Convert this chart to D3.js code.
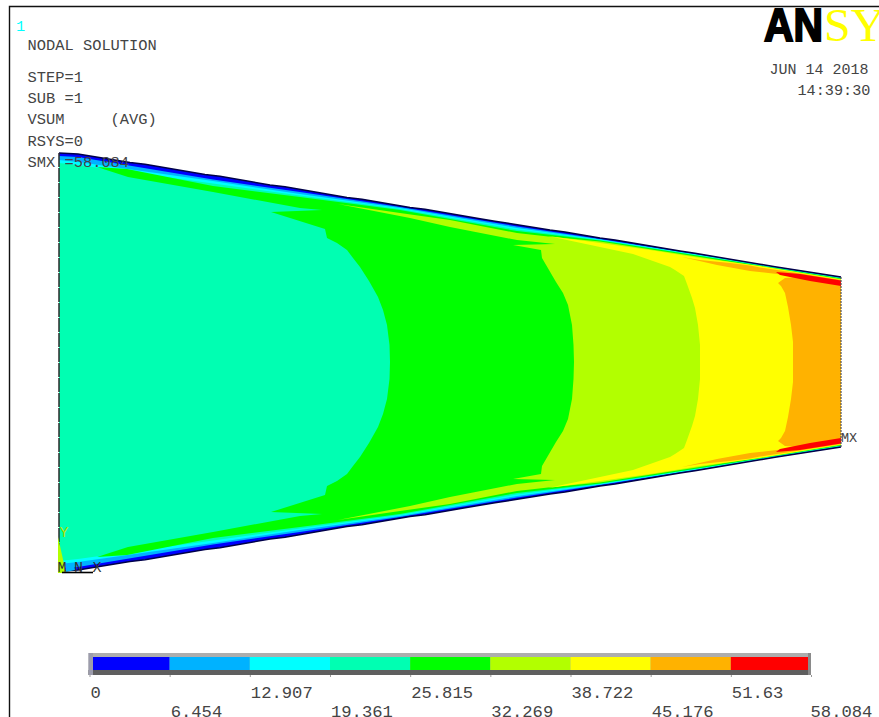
<!DOCTYPE html>
<html><head><meta charset="utf-8">
<script src="https://cdn.jsdelivr.net/npm/d3@7/dist/d3.min.js"></script>
<style>html,body{margin:0;padding:0;background:#fff;overflow:hidden}svg{display:block}</style>
</head><body><svg id="c" width="879" height="717"></svg>
<script>
// Contour levels and legend
const levels=[0,6.454,12.907,19.361,25.815,32.269,38.722,45.176,51.63,58.084];
const levelLabels=["0","6.454","12.907","19.361","25.815","32.269","38.722","45.176","51.63","58.084"];
const bandColors=["#0000ff","#00b2ff","#00ffff","#00ffb2","#00ff00","#b2ff00","#ffff00","#ffb200","#ff0000"];
// Model geometry: [axial position, height above the centre line], upper half (mirrored for lower half)
const outlineTop=[[0,209],[19,208],[71,199.6],[86,197.8],[146,187.5],[161,185.7],[211,177],[226,175.2],[288,164.6],[303,162.8],[351,154.5],[366,152.7],[421,143.2],[436,140.8],[491,132],[506,130],[541,124],[556,122],[621,111],[636,108.7],[701,97.8],[716,95.3],[782,85]];
const band1Top=[[0,0],[0,206],[19,205],[154,182.5],[241,170],[341,155],[458,135.5],[541,123],[641,107.2],[782,84.5]];
const band2Top=[[0,0],[0,202],[19,200],[154,181],[241,168],[341,154],[458,134],[541,122.5],[641,107],[782,84.3]];
const band3Top=[[0,0],[0,199],[19,197],[154,178.5],[241,166.5],[341,153],[458,132.5],[541,122],[641,106.5],[782,84]];
const band4Top=[[331,0],[330.5,17],[328,37],[324,52],[319,65],[310,81],[301,95],[294,104],[288,112],[278,119],[268,124],[266,133],[212,150],[263,152],[241,154],[154,170],[69,185],[38,195],[68,193],[154,176],[241,165],[341,152],[458,131],[541,121.5],[641,106],[782,83.5]];
const band5Top=[[515,0],[514.5,17],[513,37],[509,57],[504,69],[497,80],[490,92],[483,104],[482,112],[454,117],[496,118],[458,122],[391,135],[351,144],[279,158],[341,149],[391,142],[458,129],[489,125.5],[541,120.5],[641,105],[782,83]];
const band6Top=[[641,0],[641,17],[639,37],[636,54],[633,64],[628,78],[625,86],[616,92],[611,95],[574,108],[541,115],[489,126],[541,119],[591,112],[641,104],[701,96],[782,82.5]];
const band7Top=[[734,0],[734,20],[732,37],[729,55],[726,69],[722,76],[719,79],[726,84],[741,85],[718,88],[691,91],[658,97],[623,105],[641,102],[671,99],[691,96.5],[701,94.5],[741,88.5],[782,82]];
const band8Wedge=[[717,90],[741,88],[782,81.5],[782,76],[751,81],[721,87]];
const triadWedge=[[-1,-175],[-1,-211],[7,-211]];
const notes=[["NODAL SOLUTION",50],["STEP=1",81.5],["SUB =1",102.5],["VSUM     (AVG)",124],["RSYS=0",145.5],["SMX =58.084",167]];

const svg=d3.select("#c");
const x=d3.scaleLinear().domain([0,782]).range([59,841]);
const y=d3.scaleLinear().domain([-209,209]).range([571,153]);
const line=d3.line().x(d=>x(d[0])).y(d=>y(d[1]));
const closed=d3.line().x(d=>x(d[0])).y(d=>y(d[1])).curve(d3.curveLinearClosed);
const mirror=h=>h.concat(h.slice().reverse().map(d=>[d[0],-d[1]]));
const flip=h=>h.map(d=>[d[0],-d[1]]);

// frame
svg.append("path").attr("d","M9.5,717V6.5H879").attr("fill","none").attr("stroke","#111").attr("stroke-width",1.4);

// contour plot
const plate=svg.append("g");
const regions=[[outlineTop,0],[band1Top,1],[band2Top,2],[band3Top,3],[band4Top,4],[band5Top,5],[band6Top,6],[band7Top,7]];
plate.selectAll("path.r").data(regions).join("path").attr("class","r")
  .attr("d",d=>closed(mirror(d[0]))).attr("fill",d=>bandColors[d[1]]);
plate.selectAll("path.w").data([band8Wedge,flip(band8Wedge)]).join("path").attr("class","w")
  .attr("d",d=>closed(d)).attr("fill",bandColors[8]);
// outer edges
plate.selectAll("path.e").data([outlineTop,flip(outlineTop)]).join("path").attr("class","e")
  .attr("d",line).attr("fill","none").attr("stroke","#00004a").attr("stroke-width",1.5);
plate.append("path").attr("d",line([[0,209],[0,-209]])).attr("stroke","#2a2a2a").attr("stroke-width",1.5).attr("stroke-dasharray","14 1");
plate.append("path").attr("d",line([[782,85],[782,-85]])).attr("stroke","#555").attr("stroke-width",1.2).attr("stroke-dasharray","2 1");
// triad at the origin
plate.append("path").attr("d",closed(triadWedge)).attr("fill",bandColors[5]);
plate.append("path").attr("d",closed([[7,-205],[15,-203],[16,-208],[7,-210]])).attr("fill",bandColors[1]);
plate.append("path").attr("d",line([[3,-210.5],[34,-210.5]])).attr("stroke","#000").attr("stroke-width",1.6);

const mono="'Liberation Mono',monospace";
const label=(t,px,py,fs,col)=>svg.append("text").attr("x",px).attr("y",py).text(t).attr("xml:space","preserve").style("white-space","pre")
   .attr("font-family",mono).attr("font-size",fs).attr("fill",col||"#444");
notes.forEach(n=>label(n[0],27.5,n[1],15.4));
label("1",16,31,15.4,"#00ffff");
label("JUN 14 2018",769.5,74,15);
label("14:39:30",797.5,95,15.2);
label("MX",x(782),442,13.5);
label("Y",59.5,537,15,"#b2dd00");
label("M",57.5,572,15,"#333");
label("N",74,572,15,"#333");
label("X",92.5,572,15,"#333");

// logo
svg.append("text").attr("x",764).attr("y",41).text("AN").attr("font-family","'Liberation Sans',sans-serif").attr("font-weight",700)
  .attr("font-size",47).attr("textLength",59).attr("lengthAdjust","spacingAndGlyphs").attr("stroke","#000").attr("stroke-width",2).attr("fill","#000");
svg.append("text").attr("x",824).attr("y",41).text("SYS").attr("font-family","'Liberation Serif',serif")
  .attr("font-size",47).attr("textLength",88).attr("lengthAdjust","spacingAndGlyphs").attr("fill","#ffff00");

// legend
const lx=d3.scaleLinear().domain([levels[0],levels[9]]).range([89.5,811]);
svg.append("rect").attr("x",88.5).attr("y",653).attr("width",722.5).attr("height",22).attr("fill","#adadad");
svg.append("rect").attr("x",88.5).attr("y",670).attr("width",722.5).attr("height",5).attr("fill","#5f5f5f");
svg.append("rect").attr("x",88.5).attr("y",653).attr("width",4.5).attr("height",22).attr("fill","#9c9cac");
svg.append("rect").attr("x",808).attr("y",653).attr("width",3).attr("height",22).attr("fill","#8a8a8a");
svg.selectAll("rect.cell").data(bandColors).join("rect").attr("class","cell")
  .attr("x",(d,i)=>Math.max(93,lx(levels[i]))).attr("y",657)
  .attr("width",(d,i)=>Math.min(808,lx(levels[i+1]))-Math.max(93,lx(levels[i]))).attr("height",13).attr("fill",d=>d);
const axis=d3.axisBottom(lx).tickValues(levels).tickFormat((d,i)=>levelLabels[i]).tickSize(2).tickPadding(0);
const ag=svg.append("g").attr("transform","translate(0,675)").call(axis);
ag.select(".domain").remove();
ag.selectAll("line").attr("stroke","#999");
ag.selectAll("text").attr("text-anchor","start").attr("font-family",mono).attr("font-size",17.2).attr("fill","#444")
  .attr("dy",null).attr("dx",(d,i)=>i===9?-1:0.5).attr("y",(d,i)=>i%2?41.5:22.5);
</script></body></html>
